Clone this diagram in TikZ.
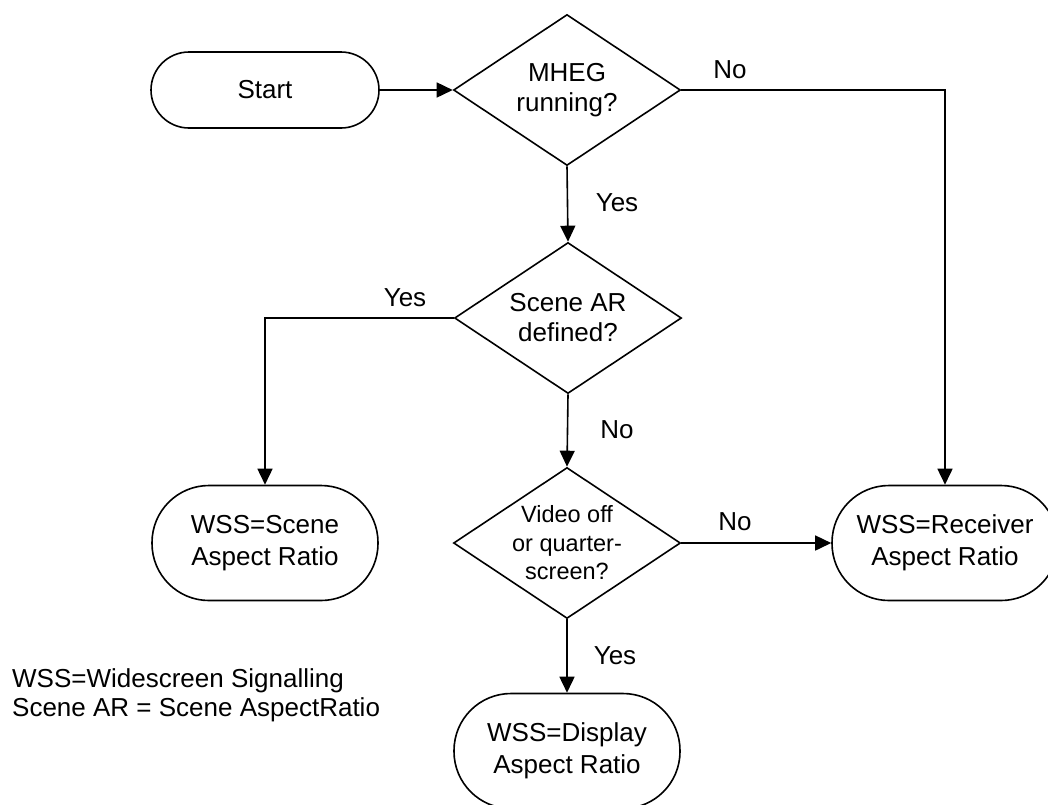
\documentclass[tikz,border=0pt]{standalone}
\usepackage{fontspec}
\setmainfont{Liberation Sans}
\usetikzlibrary{shapes.geometric,arrows.meta}
\tikzset{
  box/.style={draw, line width=1.6pt, rectangle, rounded corners=57pt, minimum width=226pt, minimum height=115pt, inner sep=0pt, align=center, font=\fontsize{26}{32}\selectfont},
  startbox/.style={box, rounded corners=38pt, minimum width=228pt, minimum height=76pt},
  dia/.style={draw, line width=1.6pt, diamond, minimum width=227pt, minimum height=151pt, inner sep=0pt},
  dtext/.style={align=center, inner sep=0pt, font=\fontsize{26}{30}\selectfont},
  dtextsmall/.style={align=center, inner sep=0pt, font=\fontsize{23.5}{28.5}\selectfont},
  lbl/.style={inner sep=0pt, font=\fontsize{26}{30}\selectfont},
  arr/.style={line width=1.6pt, -{Triangle[length=16pt,width=15pt]}},
}
\begin{document}
\begin{tikzpicture}[x=1pt,y=-1pt]
\useasboundingbox (0,0) rectangle (1048,804);
\node[startbox] (start) at (265,90) {Start};
\node[dia] (d1) at (567,90) {};
\node[dtext] (t1) at (567,90) {MHEG\\running?};
\node[dia] (d2) at (568,318) {};
\node[dtext] (t2) at (568,318) {Scene AR\\defined?};
\node[dia] (d3) at (567,543) {};
\node[dtextsmall] (t3) at (567,543) {Video off\\or quarter-\\screen?};
\node[box] (scene) at (265,543) {WSS=Scene\\Aspect Ratio};
\node[box] (recv) at (945,543) {WSS=Receiver\\Aspect Ratio};
\node[box] (disp) at (567,751) {WSS=Display\\Aspect Ratio};

\draw[arr] (start.east) -- (d1.west);
\draw[arr] (d1.east) -| (recv.north);
\draw[arr] (d1.south) -- (d2.north);
\draw[arr] (d2.west) -| (scene.north);
\draw[arr] (d2.south) -- (d3.north);
\draw[arr] (d3.east) -- (recv.west);
\draw[arr] (d3.south) -- (disp.north);

\node[lbl] (l1) at (730,70) {No};
\node[lbl] (l2) at (617,203) {Yes};
\node[lbl] (l3) at (405,298) {Yes};
\node[lbl] (l4) at (617,430) {No};
\node[lbl] (l5) at (735,522) {No};
\node[lbl] (l6) at (615,656) {Yes};

\node[lbl, anchor=base west] (leg1) at (12,687) {WSS=Widescreen Signalling};
\node[lbl, anchor=base west] (leg2) at (12,716) {Scene AR = Scene AspectRatio};
\end{tikzpicture}
\end{document}
